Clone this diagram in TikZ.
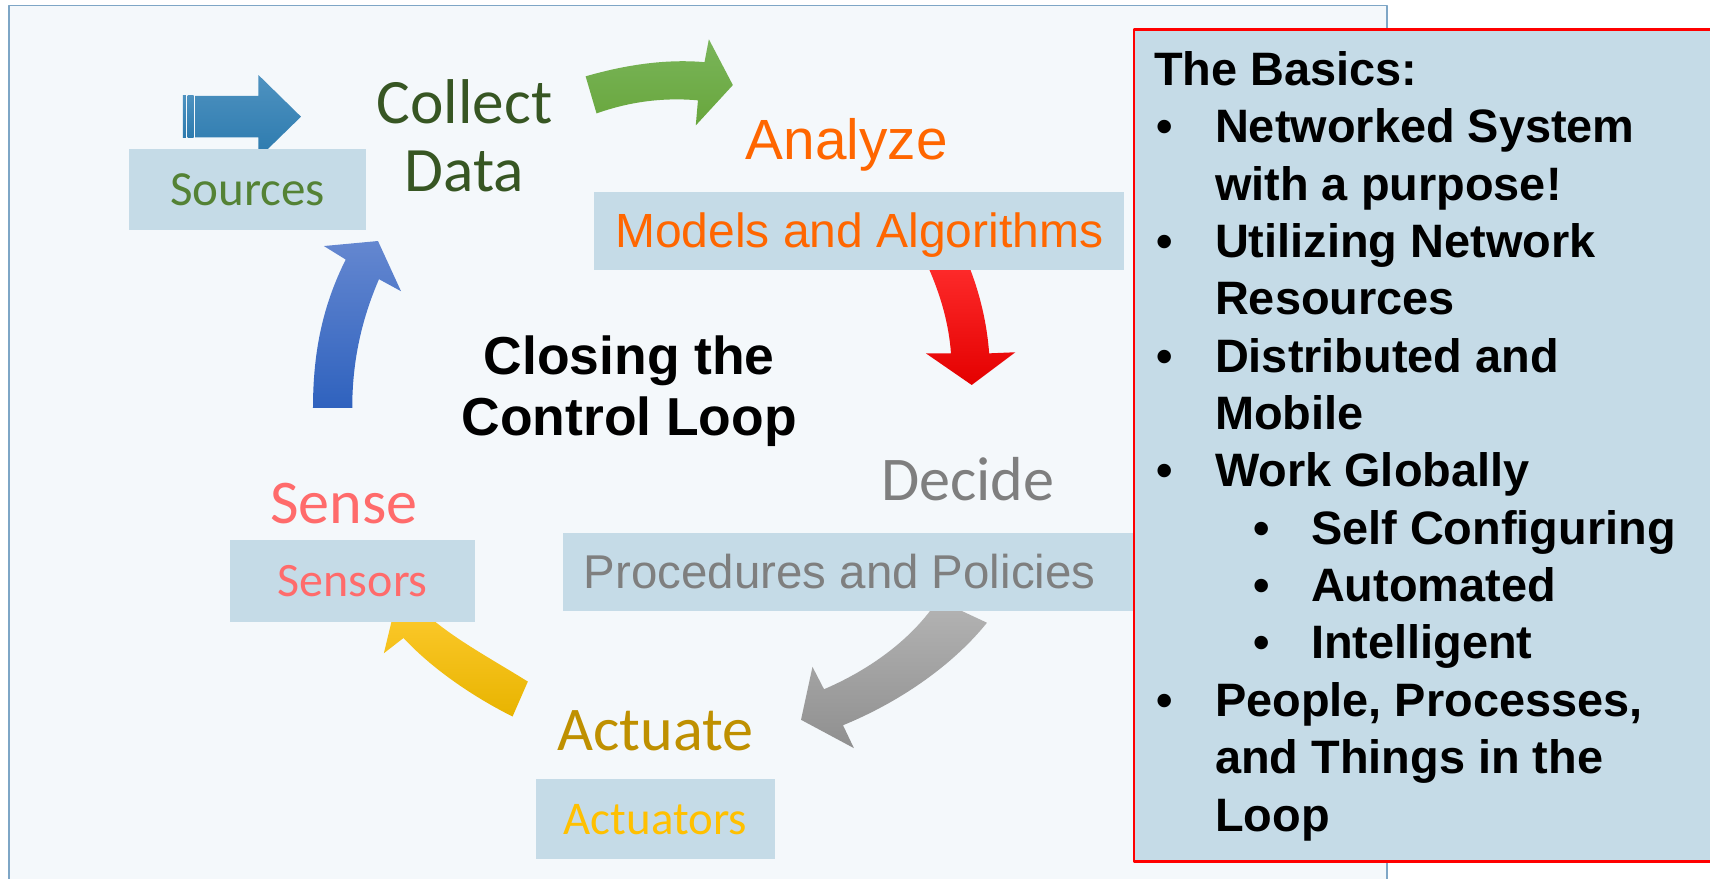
\documentclass[tikz,border=0pt]{standalone}
\usepackage{fontspec}
\usepackage{xcolor}
\newfontfamily\calibri{Carlito}
\newfontfamily\arial{Liberation Sans}
\definecolor{panelbg}{HTML}{F4F8FB}
\definecolor{panelline}{HTML}{7EA6C6}
\definecolor{boxfill}{HTML}{C5DBE7}
\definecolor{srcgreen}{HTML}{548235}
\definecolor{collgreen}{HTML}{375623}
\definecolor{anaorange}{HTML}{FF6600}
\definecolor{decgray}{HTML}{7F7F7F}
\definecolor{actgold}{HTML}{BF9000}
\definecolor{actyellow}{HTML}{FFC000}
\definecolor{senspink}{HTML}{FF6B6B}
\newcommand{\bul}{\makebox[56pt][l]{\hspace{2pt}\textbullet}}
\newcommand{\subbul}{\hspace*{91pt}\makebox[53pt][l]{\textbullet}}

\begin{document}
\begin{tikzpicture}[line cap=round,line join=round,x=1pt,y=-1pt,
    calbox/.style={fill=boxfill,inner sep=0pt,text height=28pt,text depth=0pt},
    arialbox/.style={fill=boxfill,inner sep=0pt,text height=31pt,text depth=0pt},
    steplabel/.style={anchor=base,inner sep=0pt}]
        \clip(0,0) rectangle (1568,806);
        \fill[white] (0,0) rectangle (1568,806);
        \draw[panelline,line width=1.5pt,fill=panelbg] (8,5) rectangle (1272,830);
        % block arrows of the loop
        \shade[top color={rgb,255:red,78;green,146;blue,192},bottom color={rgb,255:red,44;green,122;blue,174}] (167.7,87.8) rectangle (170.5,126);
        \shade[top color={rgb,255:red,78;green,146;blue,192},bottom color={rgb,255:red,44;green,122;blue,174}] (172,87.8) rectangle (177.5,126);
        \shade[top color={rgb,255:red,78;green,146;blue,192},bottom color={rgb,255:red,44;green,122;blue,174}] (179,87.8) -- (237,87.8) -- (237,68.8) -- (276,107) -- (237,145) -- (237,126) -- (179,126) -- cycle;
        \shade[top color={rgb,255:red,122;green,181;blue,90},bottom color={rgb,255:red,104;green,166;blue,60}] (537,70) .. controls (575,59) and (612,54) .. (646,57) -- (650,36) -- (672,78) -- (638,115) -- (640,92) .. controls (606,89) and (575,94) .. (547,104) -- cycle;
        \shade[top color={rgb,255:red,255;green,45;blue,45},bottom color={rgb,255:red,228;green,0;blue,0}] (848,238) .. controls (862,268) and (870,296) .. (872,324) -- (849,324) -- (891,353) -- (931,323) -- (907,324) .. controls (905,296) and (898,266) .. (886,238) -- cycle;
        \shade[top color={rgb,255:red,180;green,180;blue,180},bottom color={rgb,255:red,143;green,143;blue,143}] (860,550) -- (905,571) .. controls (872,612) and (822,645) .. (773,665) -- (783,686) -- (734.5,660) -- (745,611.5) -- (755.6,632) .. controls (800,613) and (838,584) .. (860,550) -- cycle;
        \shade[top color={rgb,255:red,255;green,204;blue,50},bottom color={rgb,255:red,232;green,180;blue,0}] (484,625) .. controls (452,605) and (420,588) .. (394,566) -- (412,555) -- (365,545) -- (352,599) -- (370,585) .. controls (395,612) and (432,638) .. (470,657) -- cycle;
        \shade[top color={rgb,255:red,100;green,135;blue,208},bottom color={rgb,255:red,47;green,98;blue,190}] (287,374) .. controls (287,320) and (297,278) .. (317,238) -- (297,225.6) -- (346.6,221) -- (367.7,267) -- (347.5,256) .. controls (332,292) and (323,330) .. (323,374) -- cycle;
        % boxes under each step
        \node[calbox,minimum width=218,minimum height=74,text=srcgreen,font=\calibri\fontsize{45}{54}\selectfont] (sources) at (227,174) {Sources};
        \node[arialbox,minimum width=486,minimum height=71.5,text=anaorange,font=\arial\fontsize{44}{54}\selectfont] (models) at (788,211.8) {Models and Algorithms};
        \node[arialbox,minimum width=524,minimum height=71,text=decgray,font=\arial\fontsize{43.5}{52}\selectfont] (procedures) at (778,524.5) {Procedures and Policies\hspace*{16pt}};
        \node[calbox,minimum width=225,minimum height=75,text=senspink,font=\calibri\fontsize{44}{53}\selectfont] (sensors) at (323.5,532.5) {Sensors};
        \node[calbox,minimum width=219.5,minimum height=74,text=actyellow,font=\calibri\fontsize{43}{52}\selectfont] (actuators) at (601,751) {Actuators};
        % step names (base of a two-line label is its last line)
        \node[steplabel,align=center,text=collgreen,font=\calibri\fontsize{58}{63}\selectfont] (collect) at (426,176) {Collect\\Data};
        \node[steplabel,text=anaorange,font=\arial\fontsize{52}{62}\selectfont] (analyze) at (776.5,146) {Analyze};
        \node[steplabel,text=decgray,font=\calibri\fontsize{57}{68}\selectfont] (decide) at (887.5,459) {Decide};
        \node[steplabel,text=actgold,font=\calibri\fontsize{57}{68}\selectfont] (actuate) at (601,688) {Actuate};
        \node[steplabel,text=senspink,font=\calibri\fontsize{57}{68}\selectfont] (sense) at (315.5,480) {Sense};
        \node[steplabel,align=center,font=\arial\bfseries\fontsize{49}{56}\selectfont] (closing) at (577,399) {Closing the\\Control Loop};
        % side panel
        \draw[red,line width=2pt,fill=boxfill] (1040,27) rectangle (1600,790);
        \node[anchor=base west,align=left,inner sep=0pt,font=\arial\bfseries\fontsize{43}{52.6}\selectfont] (basics) at (1058,762) {The Basics:\\
            \bul Networked System\\
            \hspace*{56pt}with a purpose!\\
            \bul Utilizing Network\\
            \hspace*{56pt}Resources\\
            \bul Distributed and\\
            \hspace*{56pt}Mobile\\
            \bul Work Globally\\
            \subbul Self Configuring\\
            \subbul Automated\\
            \subbul Intelligent\\
            \bul People, Processes,\\
            \hspace*{56pt}and Things in the\\
            \hspace*{56pt}Loop};
    \end{tikzpicture}
\end{document}
